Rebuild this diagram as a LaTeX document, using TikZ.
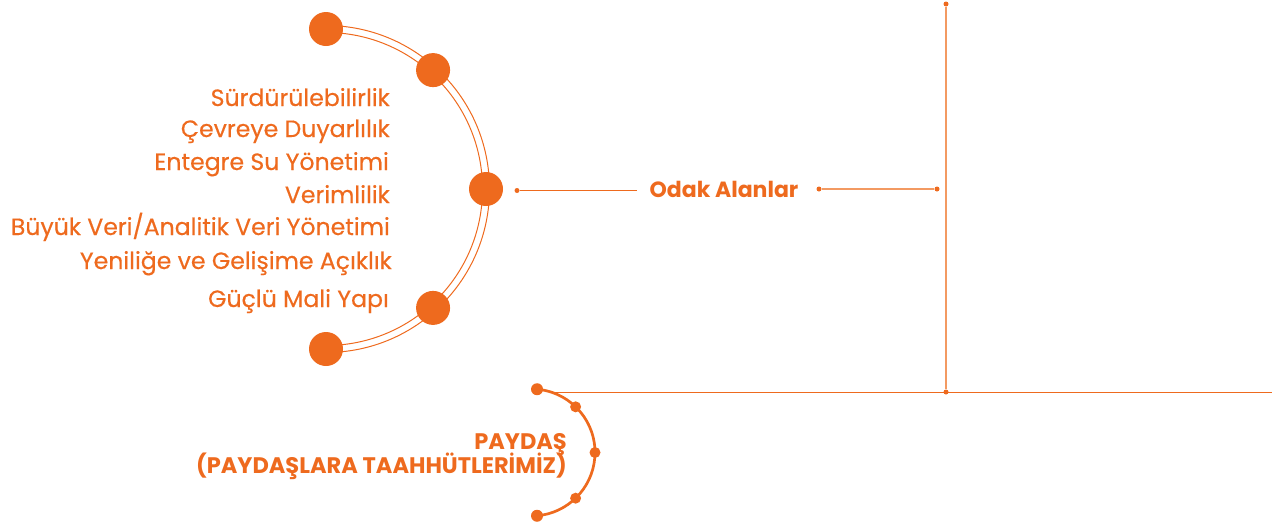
\documentclass[tikz,border=0pt]{standalone}
\usepackage{fontspec}
\setmainfont{Poppins}
\newfontfamily\maddefont[FakeBold=0.4]{Poppins}
\definecolor{turuncu}{HTML}{EE6A1E}
\definecolor{acikturuncu}{HTML}{F39A62}
\begin{document}
\begin{tikzpicture}[x=1pt,y=1pt,
    buyuknokta/.style={circle,fill=turuncu,inner sep=0pt,minimum size=34pt},
    ortanokta/.style={circle,fill=turuncu,inner sep=0pt,minimum size=11pt},
    kucuknokta/.style={circle,fill=turuncu,inner sep=0pt,minimum size=5pt},
    madde/.style={anchor=base east,inner sep=0pt,text=turuncu,font=\maddefont\fontsize{23.6}{23.6}\selectfont},
    baslik/.style={inner sep=0pt,text=turuncu,font=\bfseries\fontsize{22.5}{22.5}\selectfont}]
    \useasboundingbox (0,0) rectangle (1272,-528);

    % buyuk yay
    \coordinate (m1) at (326,-189);
    \draw[turuncu, line width=1pt] ([shift={(90:156.5)}]m1) arc (90:-90:156.5);
    \draw[turuncu, line width=1pt] ([shift={(90:163.5)}]m1) arc (90:-90:163.5);
    \node[buyuknokta] (b1) at ([shift={(90:160)}]m1) {};
    \node[buyuknokta] (b2) at ([shift={(48:160)}]m1) {};
    \node[buyuknokta] (b3) at ([shift={(0:160)}]m1) {};
    \node[buyuknokta] (b4) at ([shift={(-48:160)}]m1) {};
    \node[buyuknokta] (b5) at ([shift={(-90:160)}]m1) {};

    % odak alanlari
    \node[madde] (s1) at (390,-106) {Sürdürülebilirlik};
    \node[madde] (s2) at (390,-137) {Çevreye Duyarlılık};
    \node[madde] (s3) at (389,-170) {Entegre Su Yönetimi};
    \node[madde] (s4) at (390,-203) {Verimlilik};
    \node[madde] (s5) at (390,-235) {Büyük Veri/Analitik Veri Yönetimi};
    \node[madde] (s6) at (392,-269) {Yeniliğe ve Gelişime Açıklık};
    \node[madde] (s7) at (389,-307) {Güçlü Mali Yapı};

    \node[baslik, font=\bfseries\fontsize{22}{22}\selectfont] (odak) at (724,-189) {Odak Alanlar};
    \node[kucuknokta] (n1) at (517,-190.5) {};
    \coordinate (n1son) at (637,-190.5);
    \draw[turuncu, line width=1.2pt] (n1) -- (n1son);
    \node[kucuknokta] (n2) at (819,-189) {};
    \node[kucuknokta] (n3) at (937,-189) {};
    \draw[acikturuncu, line width=1.5pt] (n2) -- (n3);

    % eksenler
    \node[kucuknokta] (ust) at (946,-4) {};
    \node[kucuknokta] (alt) at (946,-392) {};
    \draw[acikturuncu, line width=2pt] (ust) -- (alt);
    \coordinate (ybas) at (555,-392.5);
    \coordinate (yson) at (1272,-392.5);
    \draw[turuncu, line width=1.2pt] (ybas) -- (yson);

    % kucuk yay
    \coordinate (m2) at (531.5,-452.5);
    \draw[turuncu, line width=2.7pt] ([shift={(85:63.5)}]m2) arc (85:-85:63.5);
    \node[ortanokta, minimum size=12pt] (k1) at ([shift={(85:63.5)}]m2) {};
    \node[ortanokta] (k2) at ([shift={(46:63.5)}]m2) {};
    \node[ortanokta] (k3) at ([shift={(0:63.5)}]m2) {};
    \node[ortanokta] (k4) at ([shift={(-46:63.5)}]m2) {};
    \node[ortanokta, minimum size=12pt] (k5) at ([shift={(-85:63.5)}]m2) {};

    \node[baslik, anchor=base east] (p1) at (567,-449) {PAYDAŞ};
    \node[baslik, anchor=base east] (p2) at (567,-473) {(PAYDAŞLARA TAAHHÜTLERİMİZ)};
\end{tikzpicture}
\end{document}
